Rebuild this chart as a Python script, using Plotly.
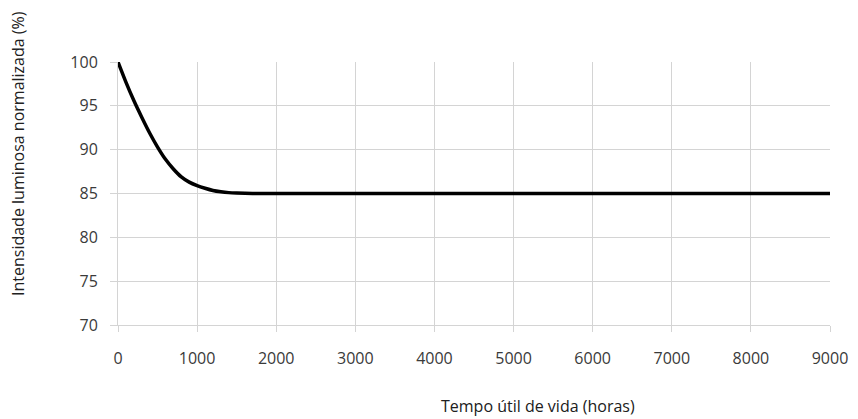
import plotly.graph_objects as go

hours = [0, 100, 200, 300, 400, 500, 600, 700, 800, 900, 1000, 1100, 1200, 1300, 1400, 1500, 1700, 2000, 9000]
intensity = [100, 97.7, 95.6, 93.7, 91.9, 90.3, 88.9, 87.8, 86.9, 86.3, 85.9, 85.6, 85.35, 85.2, 85.1, 85.05, 85.0, 85.0, 85.0]

x_ticks = [0, 1000, 2000, 3000, 4000, 5000, 6000, 7000, 8000, 9000]
y_ticks = [70, 75, 80, 85, 90, 95, 100]

W, H = 858, 419
OFF = 8  # page body margin
L, R, T, B = 118 - OFF, W - 830 + OFF, 62 - OFF, H - 325 + OFF
pw = W - L - R
ph = H - T - B

def px_x(x):
    return (x - OFF - L) / pw

def px_y(y):
    return (H - B - (y - OFF)) / ph

fig = go.Figure()
fig.add_trace(go.Scatter(x=hours, y=intensity, mode="lines",
                         line=dict(color="black", width=3.5, shape="spline", smoothing=0.6),
                         showlegend=False, hoverinfo="skip"))

grid = "#d4d4d4"
fnt = "Open Sans, Lato, sans-serif"
fig.update_layout(
    width=W, height=H,
    margin=dict(l=L, r=R, t=T, b=B),
    paper_bgcolor="white", plot_bgcolor="white",
    font=dict(family=fnt, color="#404040", size=16),
    xaxis=dict(range=[0, 9000], tickvals=x_ticks, showgrid=True, gridcolor=grid, gridwidth=1,
               showline=True, linecolor=grid, linewidth=1, zeroline=False,
               ticks="outside", ticklen=6, tickcolor=grid, tickfont=dict(size=16, color="#3a3a3a"),
               ticklabelstandoff=13),
    yaxis=dict(range=[70, 100], tickvals=y_ticks, showgrid=True, gridcolor=grid, gridwidth=1,
               showline=True, linecolor=grid, linewidth=1, zeroline=False,
               ticks="outside", ticklen=7, tickcolor=grid, tickfont=dict(size=16, color="#3a3a3a"),
               ticklabelstandoff=9),
    annotations=[
        dict(text="Tempo útil de vida (horas)", x=px_x(538), y=px_y(406), xref="paper", yref="paper",
             xanchor="center", yanchor="middle", showarrow=False,
             font=dict(size=16, color="#202020", family=fnt)),
        dict(text="Intensidade luminosa normalizada (%)", x=px_x(18), y=px_y(154),
             xref="paper", yref="paper", xanchor="center", yanchor="middle", showarrow=False,
             textangle=-90, font=dict(size=16, color="#202020", family=fnt)),
    ],
)

fig.write_html("out.html")
